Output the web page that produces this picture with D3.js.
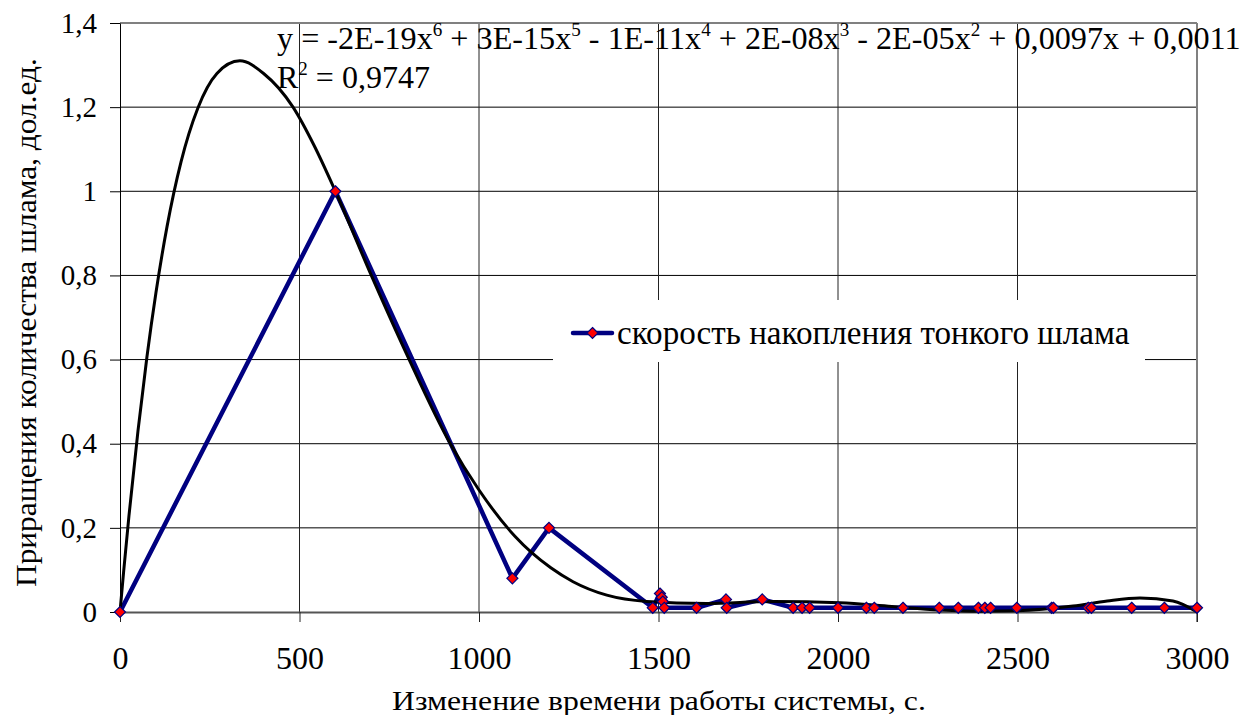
<!DOCTYPE html>
<html><head><meta charset="utf-8">
<script src="https://cdn.jsdelivr.net/npm/d3@7"></script>
<style>
html,body{margin:0;padding:0;background:#fff;}
svg{display:block;}
</style></head>
<body>
<svg id="chart" width="1256" height="715" font-family="Liberation Serif"></svg>
<script>
// ---- data ----
const seriesX = [0, 600, 1093, 1195, 1484, 1504, 1509, 1512, 1516, 1606, 1688, 1690, 1789, 1875, 1900, 1921, 2000, 2079, 2101, 2181, 2282, 2335, 2391, 2409, 2425, 2498, 2595, 2600, 2697, 2706, 2818, 2909, 3000];
const seriesY = [0, 1.0, 0.08, 0.2, 0.01, 0.044, 0.035, 0.025, 0.01, 0.01, 0.03, 0.01, 0.03, 0.01, 0.01, 0.01, 0.01, 0.01, 0.01, 0.01, 0.01, 0.01, 0.01, 0.01, 0.01, 0.01, 0.01, 0.01, 0.01, 0.01, 0.01, 0.01, 0.01];
const trendX = [0, 10, 25, 50, 75, 100, 131, 170, 217, 270, 334, 400, 482, 540, 600, 700, 800, 920, 1000, 1100, 1200, 1262, 1356, 1467, 1634, 1820, 2005, 2150, 2284, 2400, 2498, 2655, 2750, 2841, 2933, 3000];
const trendY = [0, 0.095, 0.229, 0.43, 0.606, 0.758, 0.916, 1.07, 1.198, 1.28, 1.31, 1.28, 1.2, 1.11, 1.0, 0.8, 0.61, 0.4, 0.29, 0.18, 0.105, 0.072, 0.04, 0.025, 0.02, 0.025, 0.022, 0.013, 0.005, 0.002, 0.003, 0.014, 0.026, 0.033, 0.026, 0.0];
const xTicks = [0, 500, 1000, 1500, 2000, 2500, 3000];
const xTickLabels = ["0", "500", "1000", "1500", "2000", "2500", "3000"];
const yTicks = [0, 0.2, 0.4, 0.6, 0.8, 1.0, 1.2, 1.4];
const yTickLabels = ["0", "0,2", "0,4", "0,6", "0,8", "1", "1,2", "1,4"];
const seriesName = "скорость накопления тонкого шлама";
const xTitle = "Изменение времени работы системы, с.";
const yTitle = "Приращения количества шлама, дол.ед.";
const eqParts = [["y = -2E-19x", "6"], [" + 3E-15x", "5"], [" - 1E-11x", "4"], [" + 2E-08x", "3"], [" - 2E-05x", "2"], [" + 0,0097x + 0,0011", null]];
const r2Parts = [["R", "2"], [" = 0,9747", null]];

// ---- layout ----
const FONT = "Liberation Serif";
const svg = d3.select("#chart");
const x = d3.scaleLinear().domain([0, 3000]).range([120, 1197]);
const y = d3.scaleLinear().domain([0, 1.4]).range([612, 23]);
const navy = "#000080";

function fitText(sel, x0, y0, targetW, rotate) {
  const w = sel.node().getBBox().width;
  const sx = targetW / w;
  sel.attr("x", 0).attr("y", 0)
     .attr("transform", rotate
        ? `translate(${x0},${y0}) rotate(-90) scale(${sx},1)`
        : `translate(${x0},${y0}) scale(${sx},1)`);
}
function richText(parts, size, supSize, rise) {
  const t = svg.append("text").attr("font-size", size).attr("fill", "#000").attr("font-family", FONT);
  let up = false;
  parts.forEach(([txt, sup]) => {
    t.append("tspan").attr("dy", up ? rise : 0).text(txt);
    up = false;
    if (sup) { t.append("tspan").attr("font-size", supSize).attr("dy", -rise).text(sup); up = true; }
  });
  return t;
}

// grid
const grid = svg.append("g");
grid.selectAll("line.h").data(yTicks.filter(d => d > 0 && d < 1.4)).join("line")
  .attr("x1", x(0)).attr("x2", x(3000)).attr("y1", d => y(d)).attr("y2", d => y(d))
  .attr("stroke", "#000").attr("stroke-width", 1);
grid.selectAll("line.v").data(xTicks.filter(d => d > 0 && d < 3000)).join("line")
  .attr("x1", d => x(d)).attr("x2", d => x(d)).attr("y1", y(1.4)).attr("y2", y(0))
  .attr("stroke", "#222").attr("stroke-width", 1);
grid.append("line").attr("x1", x(0)).attr("x2", x(3000)).attr("y1", y(1.4)).attr("y2", y(1.4))
  .attr("stroke", "#808080").attr("stroke-width", 2);
grid.append("line").attr("x1", x(3000)).attr("x2", x(3000)).attr("y1", y(1.4)).attr("y2", y(0) + 10)
  .attr("stroke", "#808080").attr("stroke-width", 2);

// axes
const yAxis = svg.append("g").attr("transform", `translate(${x(0)},0)`)
  .call(d3.axisLeft(y).tickValues(yTicks).tickSize(10).tickSizeOuter(0).tickPadding(13)
        .tickFormat((d, i) => yTickLabels[i]));
yAxis.attr("font-family", FONT);
yAxis.select(".domain").attr("stroke", "#000").attr("stroke-width", 1);
yAxis.selectAll(".tick line").attr("stroke", "#000");
yAxis.selectAll("text").attr("font-size", 29).attr("font-family", FONT).attr("fill", "#000");

const xAxis = svg.append("g").attr("transform", `translate(0,${y(0)})`)
  .call(d3.axisBottom(x).tickValues(xTicks).tickSize(10).tickSizeOuter(0)
        .tickFormat((d, i) => xTickLabels[i]));
xAxis.attr("font-family", FONT);
xAxis.select(".domain").attr("stroke", "#555").attr("stroke-width", 2);
xAxis.selectAll(".tick line").attr("stroke", "#222");
xAxis.selectAll("text").attr("font-size", 32).attr("font-family", FONT)
  .attr("fill", "#000").attr("dy", null).attr("y", 57);

// series line
const pts = seriesX.map((v, i) => [v, seriesY[i]]);
svg.append("path").datum(pts)
  .attr("d", d3.line().x(d => x(d[0])).y(d => y(d[1])))
  .attr("fill", "none").attr("stroke", navy).attr("stroke-width", 4.5)
  .attr("stroke-linejoin", "round").attr("stroke-linecap", "round");

// trend line
const tpts = trendX.map((v, i) => [v, trendY[i]]);
svg.append("path").datum(tpts)
  .attr("d", d3.line().x(d => x(d[0])).y(d => y(d[1])).curve(d3.curveMonotoneX))
  .attr("fill", "none").attr("stroke", "#000").attr("stroke-width", 3);

// markers
const diamond = "M0,-5.5L5.5,0L0,5.5L-5.5,0Z";
svg.append("g").selectAll("path").data(pts).join("path")
  .attr("d", diamond)
  .attr("transform", d => `translate(${x(d[0])},${y(d[1])})`)
  .attr("fill", "#ff0000").attr("stroke", navy).attr("stroke-width", 1.2);

// legend
const lg = svg.append("g");
lg.append("rect").attr("x", 553).attr("y", 300).attr("width", 592).attr("height", 62).attr("fill", "#fff");
lg.append("line").attr("x1", 573).attr("x2", 612).attr("y1", 333).attr("y2", 333)
  .attr("stroke", navy).attr("stroke-width", 4.5).attr("stroke-linecap", "round");
lg.append("path").attr("d", diamond).attr("transform", "translate(592.5,333)")
  .attr("fill", "#ff0000").attr("stroke", navy).attr("stroke-width", 1.2);
const lt = svg.append("text").attr("font-size", 33).attr("fill", "#000").attr("font-family", FONT).text(seriesName);
fitText(lt, 617, 344, 513);

// equation
const eq = richText(eqParts, 32, 19, 13);
fitText(eq, 277, 49, 964);
const r2 = richText(r2Parts, 32, 19, 13);
fitText(r2, 277, 88, 153);

// axis titles
const xt = svg.append("text").attr("font-size", 28).attr("fill", "#000").attr("font-family", FONT).text(xTitle);
fitText(xt, 392, 710, 534);
const yt = svg.append("text").attr("font-size", 30).attr("fill", "#000").attr("font-family", FONT).text(yTitle);
fitText(yt, 36, 587, 529, true);
</script>
</body></html>
